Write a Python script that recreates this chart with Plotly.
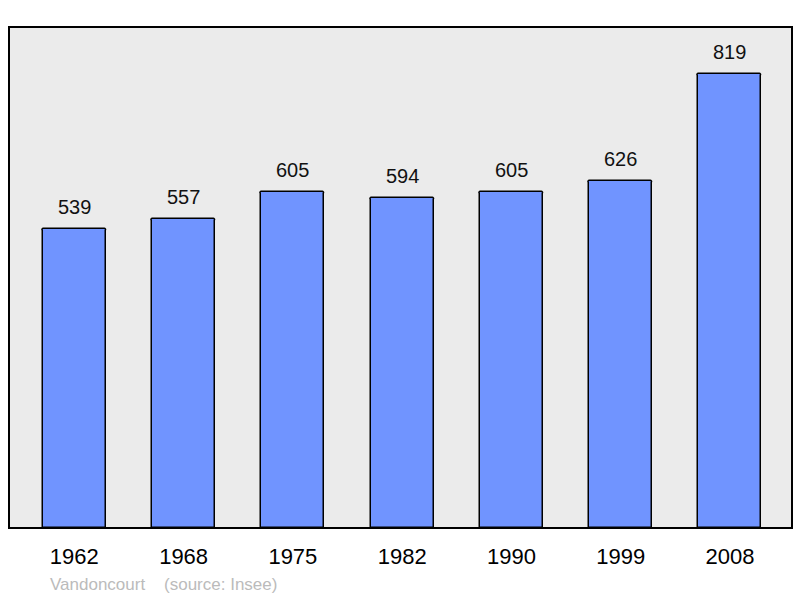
import plotly.graph_objects as go

years = ["1962", "1968", "1975", "1982", "1990", "1999", "2008"]
population = [539, 557, 605, 594, 605, 626, 819]

FONT = "Liberation Sans, Arial, sans-serif"

fig = go.Figure()
fig.add_trace(go.Bar(
    x=list(range(len(years))), y=population, width=0.576,
    marker=dict(color="#7094ff", line=dict(color="#000000", width=1.5), cornerradius=2),
    hoverinfo="skip",
))
for i, v in enumerate(population):
    fig.add_annotation(x=i, y=v, text=str(v), showarrow=False, yshift=22,
                       font=dict(size=20, color="#111111", family=FONT))

fig.add_shape(type="rect", xref="paper", yref="paper", x0=0, x1=1, y0=0, y1=1,
              line=dict(color="#000000", width=2), layer="above")

fig.add_annotation(xref="paper", yref="paper", x=(48 - 9) / 783, y=-56 / 501, xanchor="left", yanchor="middle",
                   text="Vandoncourt&nbsp;&nbsp;&nbsp;&nbsp;(source: Insee)", showarrow=False,
                   font=dict(size=17, color="#bbbbbb", family=FONT))

fig.update_layout(
    width=800, height=598,
    margin=dict(l=9, r=8, t=27, b=70),
    paper_bgcolor="#ffffff", plot_bgcolor="#ebebeb",
    showlegend=False,
    xaxis=dict(range=[-0.598, 6.568], tickmode="array", tickvals=list(range(len(years))), ticktext=years,
               showgrid=False, zeroline=False, ticks="outside", ticklen=9, tickcolor="rgba(0,0,0,0)",
               tickfont=dict(size=22, color="#000000", family=FONT)),
    yaxis=dict(range=[0, 903], showgrid=False, zeroline=False, showticklabels=False, ticks=""),
    bargap=0,
)
fig.write_html("out.html", config={"displayModeBar": False},
               post_script="document.body.style.margin='0';document.body.style.padding='0';")
